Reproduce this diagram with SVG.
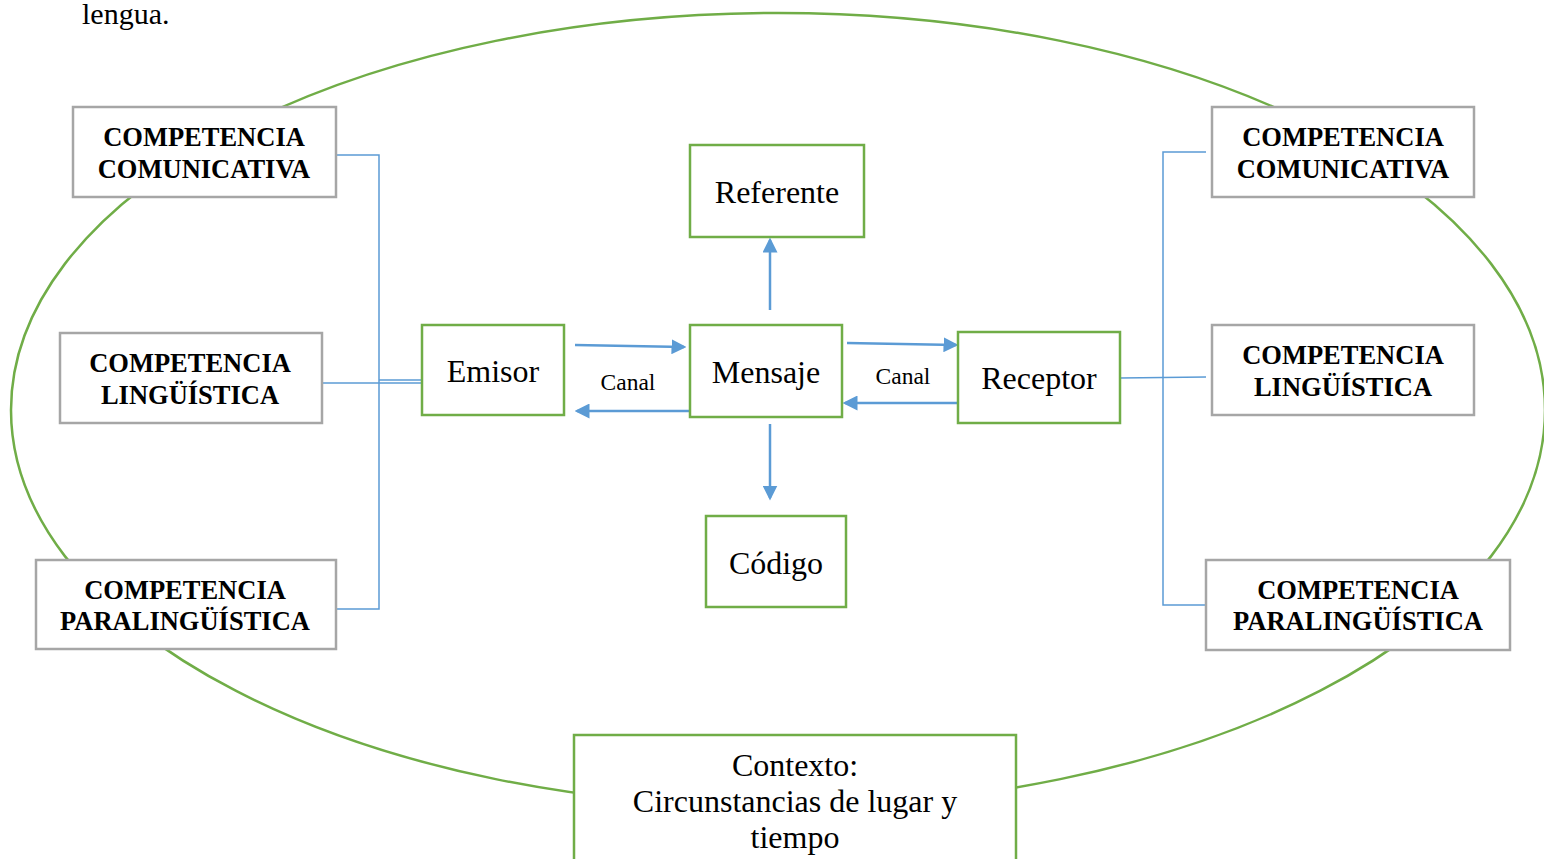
<svg xmlns="http://www.w3.org/2000/svg" width="1544" height="859" viewBox="0 0 1544 859">
<style>
.bg{fill:#ffffff}
.comp{fill:#ffffff;stroke:#a6a6a6;stroke-width:2.5}
.main{fill:#ffffff;stroke:#70ad47;stroke-width:2.5}
.ct{font-family:"Liberation Serif",serif;font-weight:bold;font-size:26.5px;fill:#000;text-anchor:middle}
.mt{font-family:"Liberation Serif",serif;font-size:32px;fill:#000;text-anchor:middle}
.lt{font-family:"Liberation Serif",serif;font-size:23.5px;fill:#000;text-anchor:middle}
.br{fill:none;stroke:#5b9bd5;stroke-width:1.5}
.ar{fill:none;stroke:#5b9bd5;stroke-width:2.5;marker-end:url(#ah)}
</style>
<defs>
<marker id="ah" markerWidth="6" markerHeight="6" refX="5" refY="3" orient="auto" markerUnits="strokeWidth">
<path d="M0,0 L6,3 L0,6 Z" fill="#5b9bd5"/>
</marker>
</defs>
<rect class="bg" x="0" y="0" width="1544" height="859"/>
<text x="82" y="24" font-family="Liberation Serif, serif" font-size="30" fill="#000">lengua.</text>
<ellipse id="context-ellipse" cx="778" cy="410" rx="767" ry="397" fill="none" stroke="#70ad47" stroke-width="2.5"/>
<g id="connectors">
<polyline class="br" points="336,155 379,155 379,609 336,609"/>
<line class="br" x1="322" y1="383" x2="422" y2="383"/>
<line class="br" x1="379" y1="380" x2="422" y2="380"/>
<polyline class="br" points="1206,152 1163,152 1163,605 1206,605"/>
<line class="br" x1="1120" y1="378" x2="1206" y2="377"/>
<line class="ar" x1="575" y1="345" x2="684" y2="347"/>
<line class="ar" x1="689" y1="411" x2="577" y2="411"/>
<line class="ar" x1="847" y1="343" x2="956" y2="345"/>
<line class="ar" x1="958" y1="403" x2="845" y2="403"/>
<line class="ar" x1="770" y1="310" x2="770" y2="240"/>
<line class="ar" x1="770" y1="424" x2="770" y2="498"/>
<text class="lt" x="628" y="390">Canal</text>
<text class="lt" x="903" y="384">Canal</text>
</g>
<g id="comp-com-left"><rect class="comp" x="73" y="107" width="263" height="90"/><text class="ct" x="204" y="146">COMPETENCIA</text><text class="ct" x="204" y="178">COMUNICATIVA</text></g>
<g id="comp-ling-left"><rect class="comp" x="60" y="333" width="262" height="90"/><text class="ct" x="190" y="372">COMPETENCIA</text><text class="ct" x="190" y="404">LINGÜÍSTICA</text></g>
<g id="comp-para-left"><rect class="comp" x="36" y="560" width="300" height="89"/><text class="ct" x="185" y="599">COMPETENCIA</text><text class="ct" x="185" y="630">PARALINGÜÍSTICA</text></g>
<g id="comp-com-right"><rect class="comp" x="1212" y="107" width="262" height="90"/><text class="ct" x="1343" y="146">COMPETENCIA</text><text class="ct" x="1343" y="178">COMUNICATIVA</text></g>
<g id="comp-ling-right"><rect class="comp" x="1212" y="325" width="262" height="90"/><text class="ct" x="1343" y="364">COMPETENCIA</text><text class="ct" x="1343" y="396">LINGÜÍSTICA</text></g>
<g id="comp-para-right"><rect class="comp" x="1206" y="560" width="304" height="90"/><text class="ct" x="1358" y="599">COMPETENCIA</text><text class="ct" x="1358" y="630">PARALINGÜÍSTICA</text></g>
<g id="referente"><rect class="main" x="690" y="145" width="174" height="92"/><text class="mt" x="777" y="203">Referente</text></g>
<g id="emisor"><rect class="main" x="422" y="325" width="142" height="90"/><text class="mt" x="493" y="382">Emisor</text></g>
<g id="mensaje"><rect class="main" x="690" y="325" width="152" height="92"/><text class="mt" x="766" y="383">Mensaje</text></g>
<g id="receptor"><rect class="main" x="958" y="332" width="162" height="91"/><text class="mt" x="1039" y="389">Receptor</text></g>
<g id="codigo"><rect class="main" x="706" y="516" width="140" height="91"/><text class="mt" x="776" y="574">Código</text></g>
<g id="contexto"><rect class="main" x="574" y="735" width="442" height="140"/><text class="mt" x="795" y="776">Contexto:</text><text class="mt" x="795" y="812">Circunstancias de lugar y</text><text class="mt" x="795" y="848">tiempo</text></g>
</svg>
